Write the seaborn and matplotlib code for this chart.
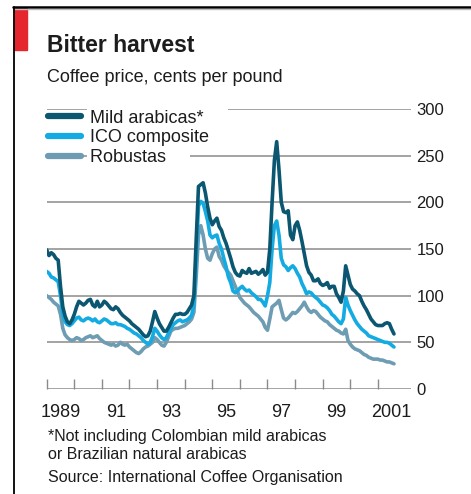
import numpy as np
import pandas as pd
import matplotlib
matplotlib.use("Agg")
import matplotlib.pyplot as plt
import seaborn as sns
from matplotlib.lines import Line2D
from matplotlib.patches import Rectangle

# monthly prices, cents per pound, Jan 1989 onwards
mild = [149, 143, 146, 144, 140, 138, 110, 88, 78, 72, 70, 74,
        80, 88, 94, 92, 90, 92, 95, 96, 90, 88, 94, 88,
        90, 94, 92, 89, 86, 85, 88, 86, 82, 79, 77, 75,
        73, 70, 68, 66, 64, 61, 58, 56, 57, 62, 72, 83,
        76, 70, 66, 62, 62, 66, 71, 76, 80, 80, 81, 80,
        80, 82, 86, 90, 100, 160, 217, 219, 221, 210, 195, 183,
        176, 180, 183, 174, 170, 162, 156, 148, 140, 131, 125, 122,
        121, 127, 125, 124, 129, 124, 125, 126, 123, 125, 128, 122,
        125, 150, 200, 245, 265, 235, 200, 190, 189, 191, 165, 160,
        175, 179, 170, 158, 145, 132, 125, 122, 116, 116, 118, 113,
        111, 112, 114, 108, 110, 110, 102, 98, 93, 105, 132, 122,
        112, 107, 105, 102, 100, 94, 89, 85, 80, 75, 72, 69,
        68, 68, 68, 70, 71, 70, 64, 59]
ico = [126, 124, 120, 119, 117, 115, 100, 80, 72, 69, 68, 70,
       73, 76, 77, 74, 73, 75, 76, 75, 73, 75, 72, 71,
       73, 75, 74, 72, 70, 70, 71, 69, 69, 68, 67, 65,
       64, 62, 60, 59, 57, 55, 52, 50, 48, 50, 56, 65,
       62, 58, 55, 53, 55, 60, 65, 69, 71, 73, 74, 72,
       73, 74, 76, 79, 90, 140, 196, 201, 199, 190, 180, 165,
       162, 164, 165, 156, 150, 140, 131, 120, 114, 105, 103, 105,
       108, 110, 107, 105, 106, 103, 101, 99, 96, 96, 93, 89,
       100, 114, 150, 175, 180, 165, 140, 133, 131, 127, 130, 132,
       129, 124, 120, 113, 108, 102, 104, 103, 100, 98, 96, 93,
       90, 89, 87, 84, 80, 78, 75, 72, 70, 75, 98, 90,
       84, 79, 74, 70, 67, 64, 62, 60, 57, 56, 55, 54,
       53, 52, 51, 50, 50, 49, 47, 45]
robusta = [100, 98, 96, 93, 91, 89, 80, 65, 58, 55, 53, 52,
           53, 55, 54, 52, 53, 55, 56, 57, 55, 56, 57, 54,
           52, 50, 49, 48, 47, 48, 46, 47, 50, 48, 47, 48,
           45, 43, 41, 39, 38, 40, 43, 45, 46, 48, 50, 55,
           53, 50, 47, 46, 50, 56, 62, 64, 65, 65, 66, 67,
           68, 70, 72, 75, 82, 120, 165, 175, 165, 150, 140, 138,
           145, 150, 152, 142, 138, 132, 128, 125, 122, 116, 110, 104,
           98, 95, 92, 90, 88, 85, 82, 80, 78, 75, 72, 66,
           63, 75, 88, 90, 92, 95, 85, 76, 74, 76, 79, 82,
           81, 83, 86, 89, 93, 88, 84, 82, 84, 83, 80, 77,
           75, 73, 72, 69, 67, 65, 63, 62, 60, 59, 64, 52,
           48, 45, 43, 42, 41, 39, 37, 36, 34, 33, 32, 32,
           32, 31, 31, 30, 29, 29, 28, 27]

series = ["Mild arabicas*", "ICO composite", "Robustas"]
colors = {"Mild arabicas*": "#0b5670", "ICO composite": "#14abe2", "Robustas": "#6e9cb3"}
year_labels = ["1989", "91", "93", "95", "97", "99", "2001"]

months = pd.date_range("1989-01-01", periods=len(mild), freq="MS")
year = months.year + (months.month - 1) / 12
wide = pd.DataFrame({"year": year, series[0]: mild, series[1]: ico, series[2]: robusta})
df = wide.melt(id_vars="year", var_name="series", value_name="price")

sns.set_theme(style="white")
plt.rcParams["font.family"] = ["Liberation Sans", "DejaVu Sans"]
grey = "#8a8a8a"
ink = "#1c1c1c"

fig = plt.figure(figsize=(4.71, 4.94), dpi=100)
ax = fig.add_axes([46.7 / 471, 105 / 494, 364.3 / 471, 280 / 494])

sns.lineplot(data=df, x="year", y="price", hue="series", hue_order=series[::-1],
             palette=colors, linewidth=2.6, estimator=None, legend=False, ax=ax)

ax.set_xlim(1989, 2002.2)
ax.set_ylim(0, 300)
ax.set_xlabel("")
ax.set_ylabel("")
for s in ax.spines.values():
    s.set_visible(False)

ax.set_axisbelow(True)
ax.yaxis.tick_right()
ax.set_yticks(range(0, 301, 50))
ax.grid(axis="y", color=grey, linewidth=1.1)
ax.grid(axis="x", visible=False)
ax.tick_params(axis="y", length=0, pad=4, labelsize=12, labelcolor=ink)

ax.set_xticks(range(1989, 2002))
ax.set_xticklabels([])
ax.set_xticks([y + 0.5 for y in range(1989, 2002, 2)], minor=True)
ax.set_xticklabels(year_labels, minor=True)
ax.tick_params(axis="x", which="major", bottom=True, direction="in", length=7, width=1, color=grey)
ax.tick_params(axis="x", which="minor", bottom=True, length=0, pad=11, labelsize=13, labelcolor=ink)

handles = [Line2D([], [], color=colors[s], linewidth=4.5) for s in series]
leg = ax.legend(handles, [s + "    " for s in series], loc="upper left",
                bbox_to_anchor=(48 / 471, 1 - 109.5 / 494), bbox_transform=fig.transFigure,
                frameon=False, fontsize=13, handlelength=1.8, handletextpad=0.55,
                labelspacing=0.16, borderpad=0, borderaxespad=0)
for t in leg.get_texts():
    t.set_color(ink)
    t.set_bbox(dict(facecolor="white", edgecolor="none", boxstyle="square,pad=0.2"))

# titles and notes
fig.text(47 / 471, 1 - 52 / 494, "Bitter harvest", fontsize=16.5, fontweight="bold",
         color=ink, va="baseline")
fig.text(47 / 471, 1 - 82 / 494, "Coffee price, cents per pound", fontsize=13,
         color=ink, va="baseline")
fig.text(48 / 471, 1 - 441 / 494, "*Not including Colombian mild arabicas", fontsize=11.5,
         color=ink, va="baseline")
fig.text(48 / 471, 1 - 459 / 494, "or Brazilian natural arabicas", fontsize=11.5,
         color=ink, va="baseline")
fig.text(48 / 471, 1 - 482 / 494, "Source: International Coffee Organisation", fontsize=11.5,
         color=ink, va="baseline")

# frame and red tag
fig.add_artist(Line2D([13 / 471, 1], [1 - 7.5 / 494] * 2, color="black", linewidth=1.8,
                      transform=fig.transFigure))
fig.add_artist(Line2D([14 / 471, 1], [1 - 9.5 / 494] * 2, color="#bdbdbd", linewidth=1,
                      transform=fig.transFigure))
fig.add_artist(Line2D([13.5 / 471] * 2, [0, 1 - 7 / 494], color="black", linewidth=1.3,
                      transform=fig.transFigure))
fig.add_artist(Rectangle((13.5 / 471, 1 - 50 / 494), 13.5 / 471, 42 / 494, color="#e5262e",
                         transform=fig.transFigure))

fig.savefig("out.png", dpi=100)
